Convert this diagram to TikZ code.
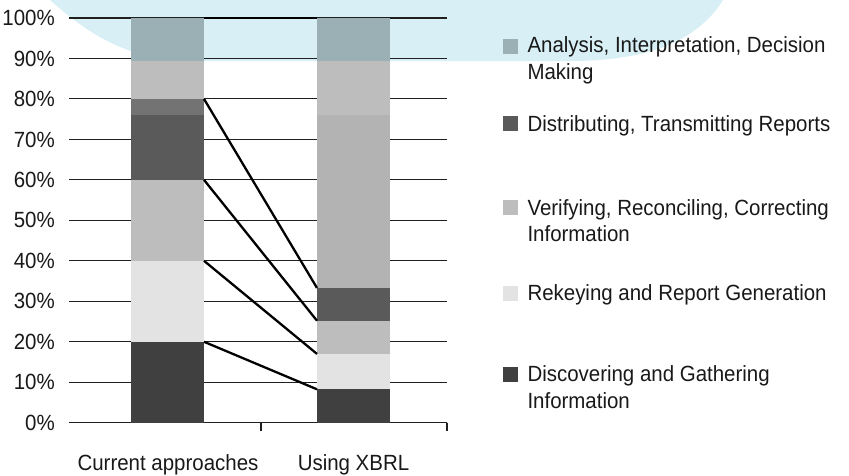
\documentclass[tikz,border=0pt]{standalone}
\usepackage{fontspec}
\setmainfont{Liberation Sans}[FakeStretch=0.93]
\usepackage{xcolor}

\definecolor{blobcyan}{HTML}{D7EFF5}
\definecolor{segtop}{HTML}{9AB0B5}
\definecolor{segdark}{HTML}{404040}
\definecolor{seglight}{HTML}{E3E3E3}
\definecolor{segmid}{HTML}{BDBDBD}
\definecolor{segdgray}{HTML}{5A5A5A}
\definecolor{segextra}{HTML}{737373}
\definecolor{segbig}{HTML}{B3B3B3}

\begin{document}
\begin{tikzpicture}[x=1pt,y=-1pt]
	\tikzstyle{every node}+=[inner sep=0pt, text=black!90, font=\fontsize{22}{26.5}\selectfont]
	\tikzstyle{grid line}=[black!88, line width=1.1pt]
	\tikzstyle{link}=[black, line width=2.3pt]
	\useasboundingbox (0,0) rectangle (849,475);
	% light blue blob behind the top of the chart
	\fill [blobcyan] (50,0) .. controls (100,45) and (140,61) .. (200,61) -- (570,61) .. controls (640,61) and (695,45) .. (723,0) -- cycle;
	% chart area, y in percent
	\begin{scope}[yshift=-422.7pt, y=4.047pt]
		\foreach \v in {0,10,...,100} {
			\draw [grid line] (69,\v) -- (447,\v);
			\node (tick\v) [anchor=base east, yshift=-7.6pt] at (55,\v) {\v\%};
		}
		\draw [grid line] (261,0) -- (261,-2);
		\draw [grid line] (447,0) -- (447,-2);
		% current approaches
		\foreach \a/\b/\c in {0/20/segdark, 20/40/seglight, 40/60/segmid, 60/76/segdgray, 76/80/segextra, 80/89.4/segmid, 89.4/100/segtop}
			\fill [\c] (131,\a) rectangle (204,\b);
		% using XBRL
		\foreach \a/\b/\c in {0/8.25/segdark, 8.25/17/seglight, 17/25.2/segmid, 25.2/33.3/segdgray, 33.3/76/segbig, 76/89.4/segmid, 89.4/100/segtop}
			\fill [\c] (317,\a) rectangle (390,\b);
		\coordinate (cur20) at (204,20);
		\coordinate (cur40) at (204,40);
		\coordinate (cur60) at (204,60);
		\coordinate (cur80) at (204,80);
		\coordinate (cur100) at (204,100);
		\coordinate (xbrl8) at (317,8.25);
		\coordinate (xbrl17) at (317,17);
		\coordinate (xbrl25) at (317,25.2);
		\coordinate (xbrl33) at (317,33.3);
		\coordinate (xbrl100) at (317,100);
		\draw [link] (cur20) -- (xbrl8);
		\draw [link] (cur40) -- (xbrl17);
		\draw [link] (cur60) -- (xbrl25);
		\draw [link] (cur80) -- (xbrl33);
		\draw [link] (cur100) -- (xbrl100);
	\end{scope}
	\node (catcur) [anchor=base] at (168,470.7) {Current approaches};
	\node (catxbrl) [anchor=base] at (353.5,470.7) {Using XBRL};
	% legend (base of a two-line node is its last line)
	\fill [segtop] (503,38.5) rectangle (518,53.5);
	\node (leganalysis) [anchor=base west, align=left] at (527.3,79) {Analysis, Interpretation, Decision\\Making};
	\fill [segdgray] (503,116) rectangle (518,131);
	\node (legdistrib) [anchor=base west] at (527.3,131) {Distributing, Transmitting Reports};
	\fill [segmid] (503,200) rectangle (518,215);
	\node (legverify) [anchor=base west, align=left] at (527.3,241.5) {Verifying, Reconciling, Correcting\\Information};
	\fill [seglight] (503,285.5) rectangle (518,300.5);
	\node (legrekey) [anchor=base west] at (527.3,300.5) {Rekeying and Report Generation};
	\fill [segdark] (503,366.5) rectangle (518,381.5);
	\node (legdiscover) [anchor=base west, align=left] at (527.3,408) {Discovering and Gathering\\Information};
\end{tikzpicture}
\end{document}
